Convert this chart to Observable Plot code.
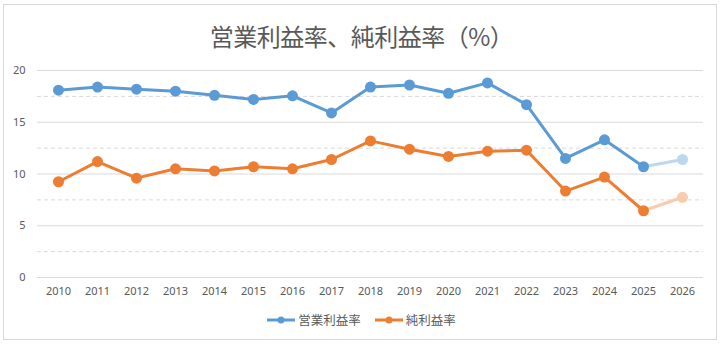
<!DOCTYPE html>
<html>
<head>
<meta charset="utf-8">
<script src="https://cdn.jsdelivr.net/npm/d3@7"></script>
<script src="https://cdn.jsdelivr.net/npm/@observablehq/plot@0.6"></script>
<style>
  html, body { margin: 0; padding: 0; background: #fff; }
  #wrap { position: relative; width: 723px; height: 346px; overflow: hidden;
          font-family: "Noto Sans CJK JP", "Noto Sans", sans-serif; color: #595959; }
  #frame { position: absolute; left: 3px; top: 4px; width: 712px; height: 334px;
           border: 1px solid #d9d9d9; box-sizing: content-box; }
  #title { position: absolute; left: 0; width: 723px; top: 20px; text-align: center;
           font-size: 24px; line-height: 32px; letter-spacing: -0.5px; color: #595959; }
  #chart { position: absolute; left: 0; top: 50px; }
  #legend { position: absolute; left: 0; width: 723px; top: 311px; display: flex;
            justify-content: center; gap: 14px; font-size: 12.5px; line-height: 18px; }
  .item { display: flex; align-items: center; gap: 3px; }
</style>
</head>
<body>
<div id="wrap">
  <div id="frame"></div>
  <div id="title">営業利益率、純利益率（%）</div>
  <div id="chart"></div>
  <div id="legend"></div>
</div>
<script>
const years = ["2010","2011","2012","2013","2014","2015","2016","2017","2018","2019","2020","2021","2022","2023","2024","2025","2026"];
const operatingMargin = [18.1, 18.4, 18.2, 18.0, 17.6, 17.2, 17.55, 15.9, 18.4, 18.6, 17.8, 18.8, 16.7, 11.5, 13.3, 10.7, 11.4];
const netMargin = [9.25, 11.2, 9.6, 10.5, 10.3, 10.7, 10.5, 11.4, 13.2, 12.4, 11.7, 12.2, 12.3, 8.35, 9.7, 6.45, 7.75];
const seriesNames = ["営業利益率", "純利益率"];
const forecastYears = ["2026"];
const yTicks = [0, 5, 10, 15, 20];
const yMinor = [2.5, 7.5, 12.5, 17.5];

const colors = ["#5b9bd5", "#ed7d31"];
const lightColors = ["#bdd7ee", "#f8cbad"];

const rows = [];
[operatingMargin, netMargin].forEach((vals, s) => {
  vals.forEach((v, i) => rows.push({year: years[i], value: v, series: seriesNames[s], s,
    forecast: forecastYears.includes(years[i])}));
});
const actual = rows.filter(d => !d.forecast);
const lastActual = years[years.length - forecastYears.length - 1];
const fcLine = rows.filter(d => d.forecast || d.year === lastActual);
const fcDots = rows.filter(d => d.forecast);

const marks = [
  Plot.ruleY(yMinor, {stroke: "#d9d9d9", strokeDasharray: "4,3", strokeWidth: 1}),
  Plot.ruleY(yTicks, {stroke: "#d9d9d9", strokeWidth: 1}),
  Plot.axisY({ticks: yTicks, tickSize: 0, tickPadding: 12, label: null, fontSize: 11}),
  Plot.axisX({tickSize: 0, tickPadding: 10, label: null, fontSize: 11}),
];
[0, 1].forEach(s => {
  marks.push(Plot.line(fcLine.filter(d => d.s === s), {x: "year", y: "value", stroke: lightColors[s], strokeWidth: 3}));
  marks.push(Plot.line(actual.filter(d => d.s === s), {x: "year", y: "value", stroke: colors[s], strokeWidth: 3}));
  marks.push(Plot.dot(actual.filter(d => d.s === s), {x: "year", y: "value", fill: colors[s], r: 5.5}));
  marks.push(Plot.dot(fcDots.filter(d => d.s === s), {x: "year", y: "value", fill: lightColors[s], r: 5.5}));
});

const chart = Plot.plot({
  width: 723,
  height: 250,
  marginLeft: 37,
  marginRight: 20,
  marginTop: 20,
  marginBottom: 23,
  style: {fontFamily: "'Noto Sans', 'DejaVu Sans', sans-serif", color: "#595959", background: "transparent", overflow: "visible"},
  x: {type: "point", domain: years, padding: 0.5},
  y: {domain: [0, 20]},
  marks
});
document.getElementById("chart").appendChild(chart);

const legend = document.getElementById("legend");
seriesNames.forEach((name, s) => {
  const item = document.createElement("div");
  item.className = "item";
  item.innerHTML = `<svg width="28" height="10"><line x1="0" y1="5" x2="28" y2="5" stroke="${colors[s]}" stroke-width="3"/><circle cx="14" cy="5" r="3.5" fill="${colors[s]}"/></svg><span>${name}</span>`;
  legend.appendChild(item);
});
</script>
</body>
</html>
